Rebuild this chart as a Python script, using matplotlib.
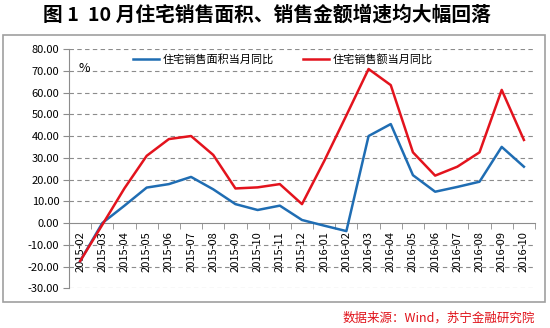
import matplotlib
matplotlib.use("Agg")
import matplotlib.pyplot as plt
from matplotlib.patches import Rectangle
from matplotlib.ticker import FixedLocator
import numpy as np

plt.rcParams['font.family'] = ['Noto Sans CJK SC', 'DejaVu Sans']

# 月份与两条同比序列（%）
months = ['2015-02', '2015-03', '2015-04', '2015-05', '2015-06', '2015-07', '2015-08',
          '2015-09', '2015-10', '2015-11', '2015-12', '2016-01', '2016-02', '2016-03',
          '2016-04', '2016-05', '2016-06', '2016-07', '2016-08', '2016-09', '2016-10']
area_yoy = [-17.5, 0.0, 8.0, 16.3, 17.9, 21.2, 15.5, 8.7, 6.0, 8.0, 1.4,
            -1.2, -3.7, 40.0, 45.5, 22.0, 14.4, 16.6, 19.0, 35.0, 25.9]
amount_yoy = [-17.5, -0.8, 16.0, 30.9, 38.6, 40.0, 31.3, 15.9, 16.4, 17.9, 8.7,
              28.5, 49.5, 70.8, 63.4, 32.5, 21.8, 25.9, 32.5, 61.2, 38.2]
y_ticks = np.arange(-30, 81, 10)

blue = '#1f6db3'
red = '#e3131d'
grey = '#8c8c8c'

fig = plt.figure(figsize=(5.5, 3.28), dpi=100)
fig.patch.set_facecolor('white')

# 外框
fig.patches.append(Rectangle((0.0055, 0.079), 0.985, 0.813, transform=fig.transFigure,
                             fill=False, edgecolor='#a0a0a0', linewidth=1.2))

fig.text(0.485, 0.955, '图 1  10 月住宅销售面积、销售金额增速均大幅回落',
         ha='center', va='center', fontsize=14.2, fontweight='bold')

ax = fig.add_axes([0.1255, 0.121, 0.8472, 0.7296])
x = np.arange(len(months))
ax.plot(x, area_yoy, color=blue, lw=1.8, label='住宅销售面积当月同比')
ax.plot(x, amount_yoy, color=red, lw=1.8, label='住宅销售额当月同比')

ax.set_xlim(-0.5, len(months) - 0.5)
ax.set_ylim(-30, 80)
ax.set_yticks(y_ticks)
ax.set_yticklabels([f'{v:.2f}' for v in y_ticks], fontsize=8)
for v in y_ticks:
    if v != 0:
        ax.axhline(v, color=grey, lw=0.8, ls=(0, (4, 3)), zorder=0)

for s in ['top', 'right']:
    ax.spines[s].set_visible(False)
ax.spines['left'].set_color(grey)
ax.spines['bottom'].set_color(grey)
ax.spines['bottom'].set_position(('data', 0))
ax.spines['bottom'].set_zorder(0.5)

ax.set_xticks(x)
ax.set_xticklabels(months, rotation=90, fontsize=8, va='top')
ax.tick_params(axis='x', which='major', length=0, pad=6)
ax.xaxis.set_minor_locator(FixedLocator(np.arange(-0.5, len(months), 1)))
ax.tick_params(axis='x', which='minor', length=4, color=grey)
ax.tick_params(axis='y', length=4, color=grey, pad=3)

ax.text(0.02, 0.92, '%', transform=ax.transAxes, fontsize=9, ha='left', va='center')

ax.legend(loc='center', bbox_to_anchor=(0.459, 0.955), ncol=2, frameon=False,
          fontsize=8, handlelength=2.35, columnspacing=2.6, handletextpad=0.3)

fig.text(0.972, 0.03, '数据来源：Wind，苏宁金融研究院', color='#e0121a',
         ha='right', va='center', fontsize=9)

fig.savefig('out.png', dpi=100)
